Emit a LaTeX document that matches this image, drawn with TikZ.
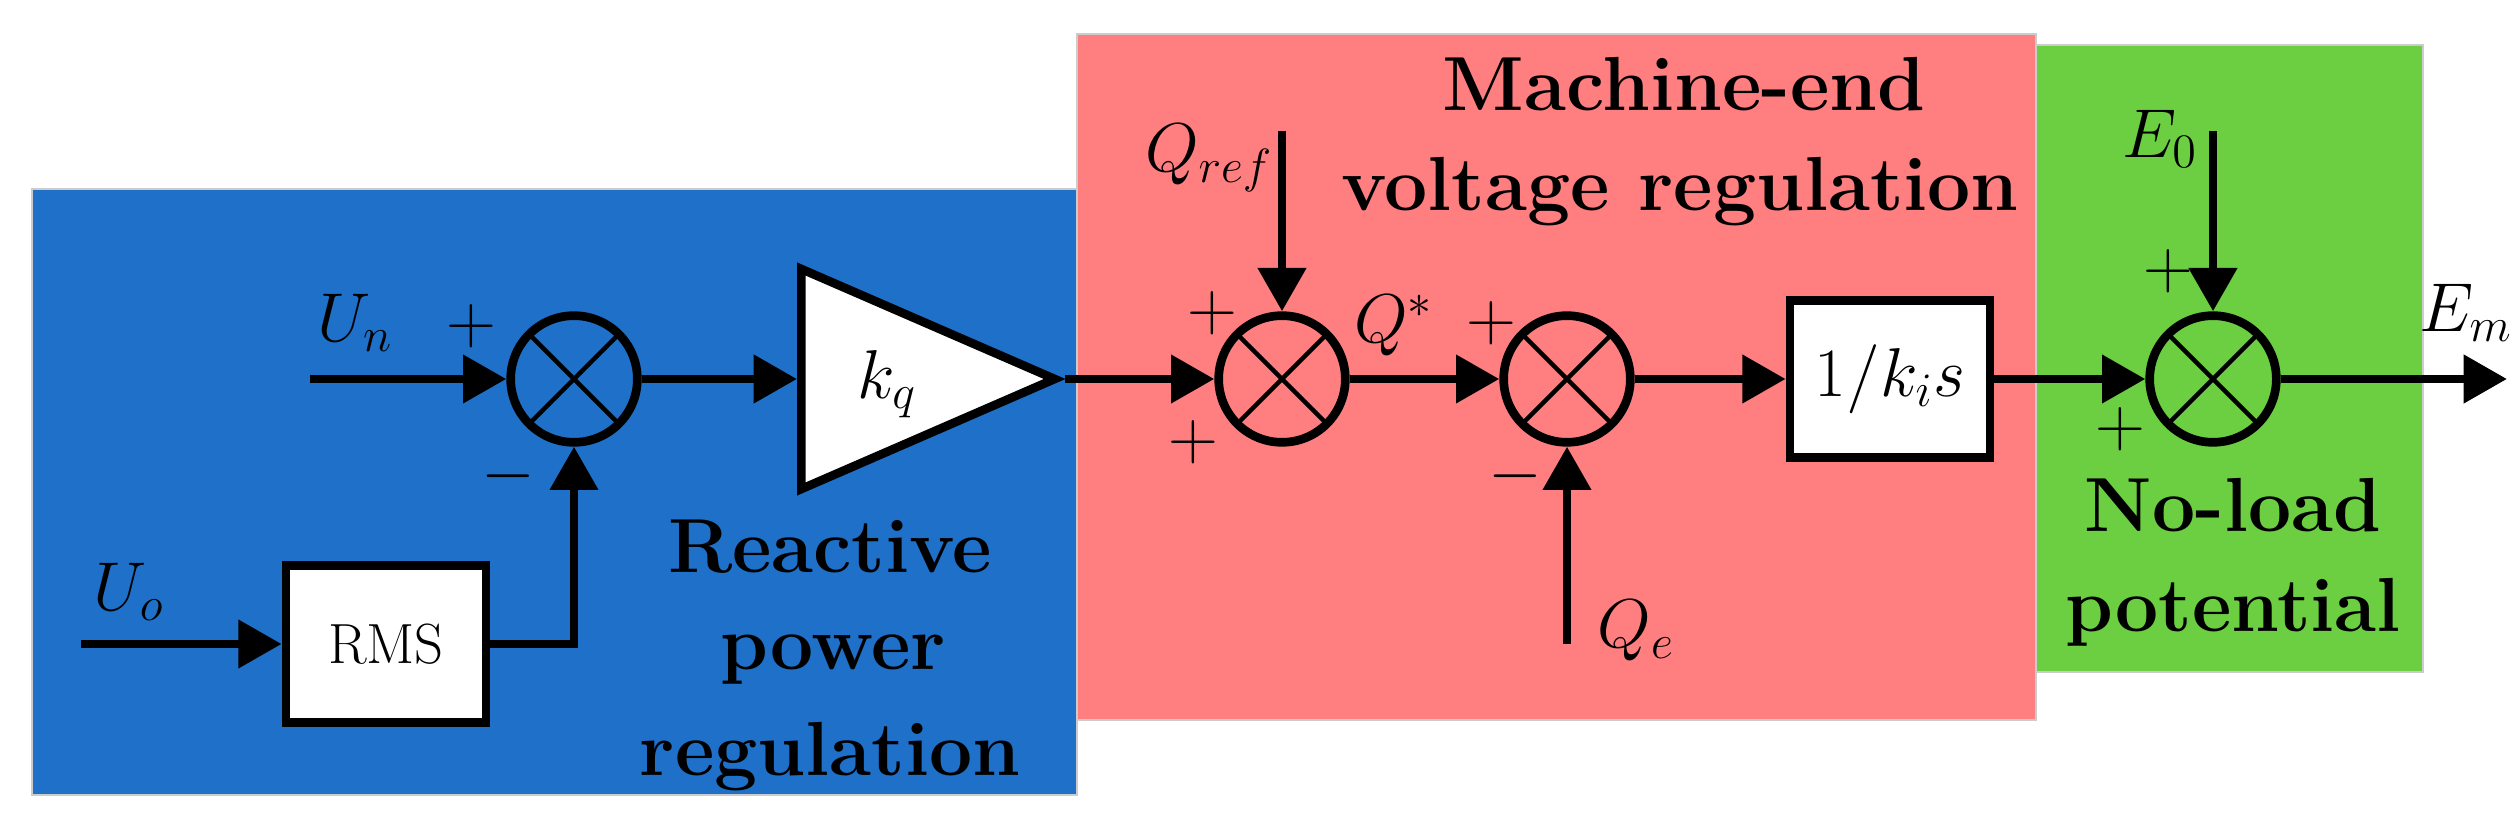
\documentclass[tikz,border=0pt]{standalone}
\usetikzlibrary{arrows.meta,shapes.geometric}
\definecolor{bblue}{HTML}{1F70C8}
\definecolor{ppink}{HTML}{FF7F80}
\definecolor{ggreen}{HTML}{6CCF42}
\begin{document}
\begin{tikzpicture}[x=0.3pt,y=-0.3pt,
  ln/.style={line width=2.6pt},
  ar/.style={ln,-{Triangle[length=13pt,width=14pt]}},
  sum/.style={circle,draw,line width=2.6pt,minimum size=38pt,inner sep=0pt,
    path picture={\draw[line width=1.3pt] (path picture bounding box.north west)--(path picture bounding box.south east)
      (path picture bounding box.north east)--(path picture bounding box.south west);}},
  blk/.style={draw,line width=2.6pt,fill=white,inner sep=0pt},
  lab/.style={font=\fontsize{23}{26}\selectfont\bfseries,align=center},
  mth/.style={font=\fontsize{22}{24}\selectfont},
  pm/.style={font=\fontsize{22}{24}\selectfont}]
\useasboundingbox (0,0) rectangle (2515,820);
\fill[bblue,draw=gray!40] (32,189) rectangle (1077,795);
\fill[ppink,draw=gray!40] (1077,34) rectangle (2036,720);
\fill[ggreen,draw=gray!40] (2036,45) rectangle (2423,672);
\node[sum] (s1) at (574,379) {};
\node[sum] (s2) at (1282,379) {};
\node[sum] (s3) at (1567,379) {};
\node[sum] (s4) at (2213,379) {};
\node[blk,minimum width=60pt,minimum height=47pt] (ki) at (1890,379) {\fontsize{22}{24}\selectfont$1/k_is$};
\node[blk,minimum width=60pt,minimum height=47pt] (rms) at (386,644) {\fontsize{17}{20}\selectfont RMS};
\node[isosceles triangle,isosceles triangle apex angle=48,draw,line width=2.6pt,fill=white,
  isosceles triangle stretches,minimum height=76pt,minimum width=66pt,inner sep=0pt,anchor=west] (kq) at (797,379) {};
\node[mth] at (887,384) {$k_q$};
\coordinate (un) at (310,379);
\coordinate (uo) at (81,644);
\coordinate (qr) at (1282,131);
\coordinate (e0) at (2213,131);
\coordinate (qe) at (1567,644);
\coordinate (em) at (2507,379);
\coordinate (rc) at (574,644);
\draw[ar] (un) -- (s1);
\draw[ar] (s1) -- (kq.west);
\draw[ar] (kq.apex) -- (s2);
\draw[ar] (s2) -- (s3);
\draw[ar] (s3) -- (ki);
\draw[ar] (ki) -- (s4);
\draw[ar] (s4) -- (em);
\draw[ar] (qr) -- (s2);
\draw[ar] (e0) -- (s4);
\draw[ar] (qe) -- (s3);
\draw[ar] (uo) -- (rms);
\draw[ar] (rms.east) -- (rc) -- (s1);
\node[mth] at (355,323) {$U_n$};
\node[mth] at (129,592) {$U_o$};
\node[mth] at (1209,158) {$Q_{ref}$};
\node[mth] at (1394,326) {$Q^*$};
\node[mth] at (1636,631) {$Q_e$};
\node[mth] at (2160,139) {$E_0$};
\node[mth] at (2466,313) {$E_m$};
\node[pm] at (471,326) {$+$};
\node[pm] at (508,476) {$-$};
\node[pm] at (1212,313) {$+$};
\node[pm] at (1193,442) {$+$};
\node[pm] at (1491,323) {$+$};
\node[pm] at (1515,476) {$-$};
\node[pm] at (2168,271) {$+$};
\node[pm] at (2120,429) {$+$};
\node[lab] at (1684,84) {Machine-end};
\node[lab] at (1680,192) {voltage regulation};
\node[lab] at (830,547) {Reactive};
\node[lab] at (833,660) {power};
\node[lab] at (830,757) {regulation};
\node[lab] at (2233,505) {No-load};
\node[lab] at (2233,612) {potential};
\end{tikzpicture}
\end{document}
